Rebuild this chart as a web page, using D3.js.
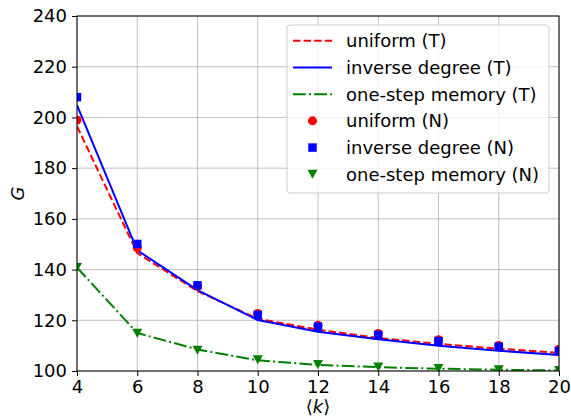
<!DOCTYPE html><html><meta charset="UTF-8">
<title>G vs k</title>
<style>
body { margin: 0; background: #fff; overflow: hidden; }
text { font-family: "DejaVu Sans", sans-serif; }
.grid line { stroke: #b0b0b0; stroke-width: 0.8; }
</style>
<script src="https://cdn.jsdelivr.net/npm/d3@7"></script>
<svg width="571" height="419"></svg>
<script>
// values
var ks = [4, 6, 8, 10, 12, 14, 16, 18, 20];
var uniformT  = [196.5, 146.5, 131.5, 120.6, 116.3, 113.0, 110.7, 108.8, 107.2];
var inverseT  = [204.8, 147.6, 131.9, 120.1, 115.5, 112.5, 110.0, 108.0, 106.3];
var memoryT   = [140.8, 115.0, 108.5, 104.2, 102.4, 101.5, 100.9, 100.5, 100.2];
var uniformN  = [199.0, 148.6, 133.5, 122.7, 118.0, 114.8, 112.3, 110.1, 108.6];
var inverseN  = [208.0, 150.1, 133.8, 122.1, 117.5, 114.2, 111.8, 109.6, 107.9];
var memoryN   = [140.8, 114.9, 108.2, 104.4, 102.6, 101.6, 101.0, 100.5, 100.2];
var xTicks = [4, 6, 8, 10, 12, 14, 16, 18, 20];
var yTicks = [100, 120, 140, 160, 180, 200, 220, 240];
var labels = ["uniform (T)", "inverse degree (T)", "one-step memory (T)",
              "uniform (N)", "inverse degree (N)", "one-step memory (N)"];

var svg = d3.select("svg");
var fs = 18;
var x = d3.scaleLinear().domain([4, 20]).range([77, 559]);
var y = d3.scaleLinear().domain([100, 240]).range([371, 16]);

// grid
var grid = svg.append("g").attr("class", "grid");
grid.selectAll(".gx").data(xTicks).enter().append("line")
    .attr("x1", d => x(d)).attr("x2", d => x(d))
    .attr("y1", y(100)).attr("y2", y(240));
grid.selectAll(".gy").data(yTicks).enter().append("line")
    .attr("x1", x(4)).attr("x2", x(20))
    .attr("y1", d => y(d)).attr("y2", d => y(d));

var plot = svg.append("g");
var line = d3.line().x((d, i) => x(ks[i])).y(d => y(d));

svg.append("clipPath").attr("id", "clip")
    .append("rect").attr("x", x(4)).attr("y", y(240))
    .attr("width", x(20) - x(4)).attr("height", y(100) - y(240));

var theory = [
  {v: uniformT, c: "#ff0000", dash: "7.4,3.2"},
  {v: inverseT, c: "#0000ff", dash: null},
  {v: memoryT,  c: "#008000", dash: "12.8,3.2,2,3.2"}
];
theory.forEach(function(s) {
  plot.append("path").datum(s.v)
    .attr("d", line)
    .attr("fill", "none")
    .attr("stroke", s.c)
    .attr("stroke-width", 2)
    .attr("stroke-dasharray", s.dash)
    .attr("clip-path", "url(#clip)");
});

var sym = {
  circle: d3.symbol().type(d3.symbolCircle).size(64)(),
  square: d3.symbol().type(d3.symbolSquare).size(72)(),
  tri: "M-5,-4.5L5,-4.5L0,4.5Z"
};
var numeric = [
  {v: uniformN, c: "#ff0000", m: "circle"},
  {v: inverseN, c: "#0000ff", m: "square"},
  {v: memoryN,  c: "#008000", m: "tri"}
];
numeric.forEach(function(s) {
  plot.append("g").attr("clip-path", "url(#clip)")
    .selectAll("path").data(s.v).enter().append("path")
    .attr("transform", (d, i) => "translate(" + x(ks[i]) + "," + y(d) + ")")
    .attr("d", sym[s.m])
    .attr("fill", s.c);
});

// spines
svg.append("rect")
    .attr("x", x(4)).attr("y", y(240))
    .attr("width", x(20) - x(4)).attr("height", y(100) - y(240))
    .attr("fill", "none").attr("stroke", "#000").attr("stroke-width", 1);

// axes
var xAxis = svg.append("g").attr("transform", "translate(0," + y(100) + ")")
    .call(d3.axisBottom(x).tickValues(xTicks).tickSize(5).tickPadding(4));
var yAxis = svg.append("g").attr("transform", "translate(" + x(4) + ",0)")
    .call(d3.axisLeft(y).tickValues(yTicks).tickSize(5).tickPadding(5));
[xAxis, yAxis].forEach(function(a) {
  a.select(".domain").remove();
  a.selectAll("text").attr("font-size", fs).attr("font-family", "DejaVu Sans").attr("fill", "#000");
  a.selectAll("line").attr("stroke", "#000");
});

svg.append("text")
    .attr("transform", "translate(24," + y(170) + ") rotate(-90)")
    .attr("text-anchor", "middle")
    .attr("font-size", fs).attr("font-style", "italic")
    .text("G");

// x label as three side-by-side pieces: ⟨ k ⟩
var parts = [
  {t: "\u27E8", it: false},
  {t: "k", it: true},
  {t: "\u27E9", it: false}
];
var pieces = parts.map(function(p) {
  return svg.append("text").attr("y", 413).attr("font-size", fs)
    .attr("font-style", p.it ? "italic" : null).text(p.t);
});
var widths = pieces.map(p => p.node().getComputedTextLength());
var total = d3.sum(widths), cx = x(12) - total / 2;
pieces.forEach(function(p, i) {
  p.attr("x", cx);
  cx += widths[i];
});

// legend
var lg = svg.append("g").attr("transform", "translate(287,25)");
lg.append("rect").attr("width", 262).attr("height", 168)
    .attr("rx", 3).attr("fill", "#fff").attr("fill-opacity", 0.8)
    .attr("stroke", "#cccccc").attr("stroke-width", 1);
var rowY = d3.scaleLinear().domain([0, 5]).range([15.7, 149.3]);
labels.forEach(function(lab, i) {
  var row = lg.append("g").attr("transform", "translate(0," + rowY(i) + ")");
  if (i < 3) {
    row.append("line").attr("x1", 6).attr("x2", 45)
      .attr("stroke", theory[i].c).attr("stroke-width", 2)
      .attr("stroke-dasharray", theory[i].dash);
  } else {
    row.append("path").attr("transform", "translate(25.5,0)")
      .attr("d", sym[numeric[i - 3].m])
      .attr("fill", numeric[i - 3].c);
  }
  row.append("text").attr("x", 59).attr("y", 6.5)
    .attr("font-size", fs).text(lab);
});
</script>
</html>
